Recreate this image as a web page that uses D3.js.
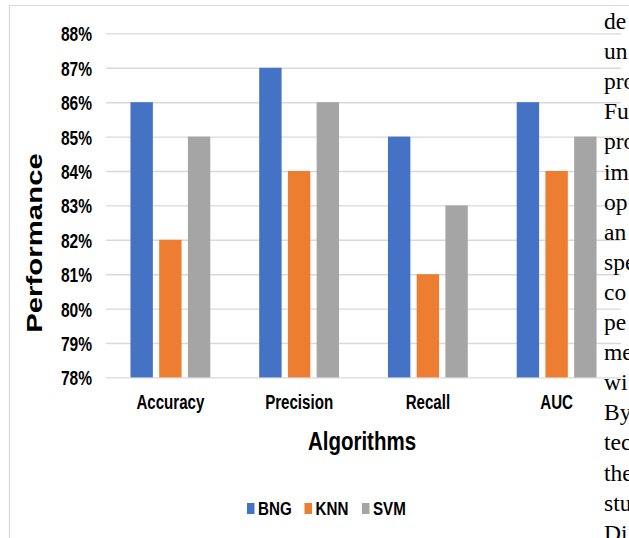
<!DOCTYPE html>
<html>
<head>
<meta charset="utf-8">
<script src="https://cdn.jsdelivr.net/npm/d3@7"></script>
<style>
  html, body { margin: 0; padding: 0; background: #fff; overflow: hidden; }
  svg { display: block; }
</style>
</head>
<body>
<svg id="chart" width="629" height="538"></svg>
<script>
// ---- data ----
const categories = ["Accuracy", "Precision", "Recall", "AUC"];
const seriesNames = ["BNG", "KNN", "SVM"];
const bngValues = [86, 87, 85, 86];
const knnValues = [82, 84, 81, 84];
const svmValues = [85, 86, 83, 85];
const yTickValues = [78, 79, 80, 81, 82, 83, 84, 85, 86, 87, 88];
const seriesColors = ["#4472C4", "#ED7D31", "#A5A5A5"];
// running text of the page column beside the figure
const sideText = ["de", "un", "pro", "Fu", "pro", "im", "op", "an", "spe",
                  "co", "pe", "me", "wi", "By", "tec", "the", "stu", "Di"];

const seriesValues = [bngValues, knnValues, svmValues];
const rows = categories.map((c, i) => ({
  category: c,
  values: seriesNames.map((s, j) => ({ series: s, value: seriesValues[j][i] }))
}));

const svg = d3.select("#chart");
const W = 629, H = 538;
const plot = { left: 106, right: 621, top: 33.4, bottom: 377.4 };
const sansBold = "'Liberation Sans', Arial, sans-serif";
const gridColor = "#D9D9D9";

// chart frame
svg.append("line").attr("x1", 9).attr("x2", W).attr("y1", 5.5).attr("y2", 5.5)
  .attr("stroke", gridColor).attr("stroke-width", 1.2);
svg.append("line").attr("x1", 9.5).attr("x2", 9.5).attr("y1", 5).attr("y2", H)
  .attr("stroke", gridColor).attr("stroke-width", 1.2);

// scales
const x0 = d3.scaleBand().domain(categories)
  .range([plot.left, plot.right]).paddingInner(0.38).paddingOuter(0.19);
const x1 = d3.scaleBand().domain(seriesNames)
  .range([0, x0.bandwidth()]).paddingInner(0.22);
const y = d3.scaleLinear().domain([78, 88]).range([plot.bottom, plot.top]);
const color = d3.scaleOrdinal().domain(seriesNames).range(seriesColors);

// y axis with gridlines
const yAxis = svg.append("g")
  .attr("transform", `translate(${plot.left},0)`)
  .call(d3.axisLeft(y).tickValues(yTickValues).tickFormat(d => d + "%")
    .tickSize(-(plot.right - plot.left)).tickPadding(0));
yAxis.select(".domain").remove();
yAxis.selectAll(".tick line").attr("stroke", gridColor).attr("stroke-width", 1.4);
yAxis.selectAll(".tick text")
  .attr("x", 0).attr("dy", "0.36em")
  .attr("transform", "translate(-14,0) scale(0.74,1)")
  .attr("font-family", sansBold).attr("font-weight", "bold")
  .attr("font-size", 21).attr("fill", "#000").attr("text-anchor", "end");

// bars
const groups = svg.append("g").selectAll("g").data(rows).join("g")
  .attr("transform", d => `translate(${x0(d.category)},0)`);
groups.selectAll("rect").data(d => d.values).join("rect")
  .attr("x", d => x1(d.series))
  .attr("width", x1.bandwidth())
  .attr("y", d => y(d.value))
  .attr("height", d => y(78) - y(d.value))
  .attr("fill", d => color(d.series));

// category labels
const xAxis = svg.append("g")
  .attr("transform", `translate(0,${plot.bottom})`)
  .call(d3.axisBottom(x0).tickSize(0).tickPadding(0));
xAxis.select(".domain").remove();
xAxis.selectAll(".tick text")
  .attr("y", 0).attr("dy", 0)
  .attr("transform", "translate(0,31.6) scale(0.755,1)")
  .attr("font-family", sansBold).attr("font-weight", "bold")
  .attr("font-size", 20).attr("fill", "#000");

// axis titles
svg.append("text")
  .attr("transform", "translate(362,450) scale(0.82,1)")
  .attr("text-anchor", "middle")
  .attr("font-family", sansBold).attr("font-weight", "bold")
  .attr("font-size", 25).attr("fill", "#000")
  .text("Algorithms");

svg.append("text")
  .attr("transform", "translate(42,243) scale(0.72,1) rotate(-90)")
  .attr("text-anchor", "middle")
  .attr("font-family", sansBold).attr("font-weight", "bold")
  .attr("font-size", 29.4).attr("fill", "#000")
  .text("Performance");

// legend
const legendX = d3.scalePoint().domain(seriesNames).range([247, 362]);
const legend = svg.append("g").selectAll("g").data(seriesNames).join("g")
  .attr("transform", d => `translate(${legendX(d)},503)`);
legend.append("rect")
  .attr("width", 7.5).attr("height", 11)
  .attr("fill", d => color(d));
legend.append("text")
  .attr("transform", "translate(11,12) scale(0.82,1)")
  .attr("font-family", sansBold).attr("font-weight", "bold")
  .attr("font-size", 18.5).attr("fill", "#000")
  .text(d => d);

// page text running alongside
svg.append("g").selectAll("text").data(sideText).join("text")
  .attr("x", 604)
  .attr("y", (d, i) => 29 + i * 30.1)
  .attr("font-family", "'Liberation Serif', 'Times New Roman', serif")
  .attr("font-size", 23.5).attr("fill", "#000")
  .text(d => d);
</script>
</body>
</html>
